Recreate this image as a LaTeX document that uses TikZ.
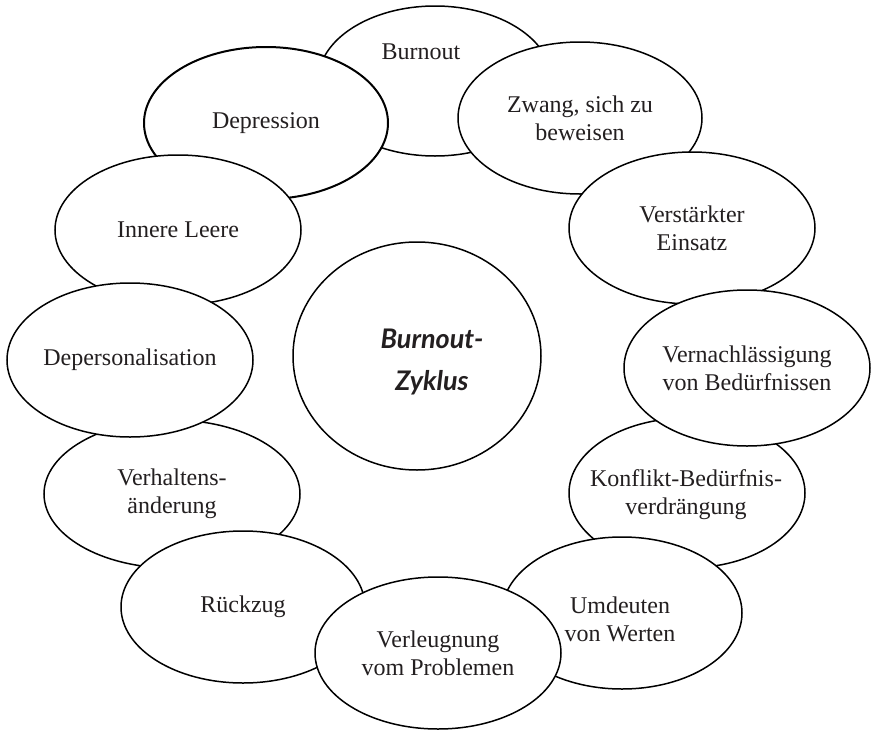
\documentclass[tikz,border=0pt]{standalone}
\usepackage{fontspec}
\setmainfont{Liberation Serif}
\newfontfamily\centerfont{Lato}
\usetikzlibrary{shapes.geometric}
\definecolor{ink}{HTML}{231F20}
\tikzset{
  stage/.style={ellipse, draw=black, line width=1.5pt, fill=white, inner sep=0pt,
    align=center, text=ink, font=\fontsize{24}{28}\selectfont},
  lbl/.style={inner sep=0pt, align=center, text=ink, font=\fontsize{24}{28}\selectfont}
}
\begin{document}
\begin{tikzpicture}[x=1pt,y=-1pt]
\useasboundingbox (0,0) rectangle (871,731);
\node[stage, minimum width=234pt, minimum height=150pt] (burnout) at (435,81) {};
\node[lbl] (burnoutlbl) at (421,52) {Burnout};
\node[stage, minimum width=244pt, minimum height=152pt] (zwang) at (580,118) {Zwang, sich zu\\beweisen};
\node[stage, minimum width=246pt, minimum height=152pt] (einsatz) at (692,228) {Verstärkter\\Einsatz};
\node[stage, minimum width=236pt, minimum height=150pt] (konflikt) at (687,493) {};
\node[lbl] (konfliktlbl) at (686,495) {Konflikt-Bedürfnis-\\verdrängung};
\node[stage, minimum width=246pt, minimum height=156pt] (vernach) at (747,368) {Vernachlässigung\\von Bedürfnissen};
\node[stage, minimum width=240pt, minimum height=152pt] (umdeuten) at (622,613) {};
\node[lbl] (umdeutenlbl) at (620,619) {Umdeuten\\von Werten};
\node[stage, minimum width=244pt, minimum height=152pt, line width=2pt] (depression) at (266,123) {Depression};
\node[stage, minimum width=246pt, minimum height=150pt] (leere) at (178,230) {Innere Leere};
\node[stage, minimum width=256pt, minimum height=148pt] (verhalten) at (172,494) {Verhaltens-\\änderung};
\node[stage, minimum width=246pt, minimum height=154pt] (deperson) at (130,360) {Depersonalisation};
\node[stage, minimum width=244pt, minimum height=152pt] (rueckzug) at (243,607) {Rückzug};
\node[stage, minimum width=246pt, minimum height=152pt] (verleug) at (438,653) {Verleugnung\\vom Problemen};
\node[stage, minimum width=248pt, minimum height=228pt] (zyklus) at (417,356) {};
\node[lbl, font=\centerfont\bfseries\itshape\fontsize{27}{42}\selectfont] (zykluslbl) at (432,362) {Burnout-\\Zyklus};
\end{tikzpicture}
\end{document}
